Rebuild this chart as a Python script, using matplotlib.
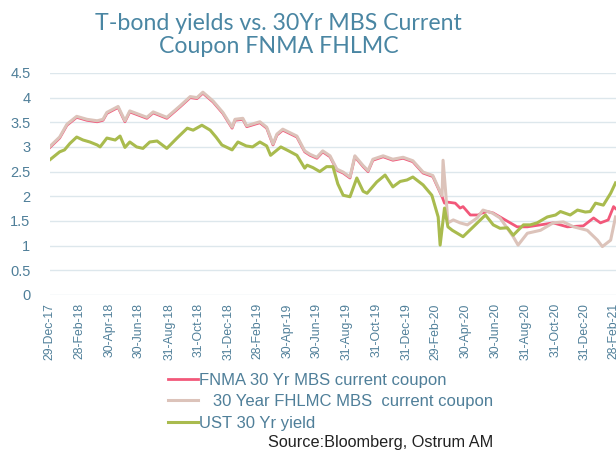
import matplotlib
matplotlib.use("Agg")
import matplotlib.pyplot as plt
import pandas as pd

# UST 30Y yield
ust_dates = ["2017-12-29", "2018-01-08", "2018-01-18", "2018-01-28", "2018-02-08", "2018-02-22",
             "2018-03-07", "2018-03-21", "2018-04-05", "2018-04-11", "2018-04-25", "2018-05-12",
             "2018-05-22", "2018-06-01", "2018-06-11", "2018-06-25", "2018-07-08", "2018-07-22",
             "2018-08-06", "2018-08-26", "2018-09-16", "2018-10-07", "2018-10-19", "2018-11-06",
             "2018-11-23", "2018-12-05", "2018-12-17", "2019-01-07", "2019-01-19", "2019-02-05",
             "2019-02-18", "2019-03-05", "2019-03-19", "2019-03-27", "2019-04-17", "2019-05-03",
             "2019-05-20", "2019-06-05", "2019-06-10", "2019-06-22", "2019-07-06", "2019-07-20",
             "2019-08-02", "2019-08-12", "2019-08-23", "2019-09-06", "2019-09-20", "2019-10-03",
             "2019-10-11", "2019-10-31", "2019-11-17", "2019-12-03", "2019-12-18", "2020-01-01",
             "2020-01-13", "2020-02-03", "2020-02-21", "2020-03-05", "2020-03-09", "2020-03-18",
             "2020-03-25", "2020-04-03", "2020-04-25", "2020-05-16", "2020-06-10", "2020-06-26",
             "2020-07-10", "2020-07-25", "2020-08-06", "2020-08-27", "2020-09-10", "2020-09-24",
             "2020-10-15", "2020-11-01", "2020-11-11", "2020-12-01", "2020-12-16", "2021-01-01",
             "2021-01-11", "2021-01-22", "2021-02-07", "2021-02-22", "2021-03-04"]
ust_yield = [2.74, 2.82, 2.90, 2.94, 3.07, 3.20,
             3.14, 3.10, 3.04, 3.00, 3.18, 3.14,
             3.22, 2.99, 3.10, 3.00, 2.97, 3.10,
             3.12, 2.97, 3.18, 3.38, 3.34, 3.44,
             3.34, 3.20, 3.04, 2.94, 3.10, 3.02,
             3.00, 3.10, 3.02, 2.83, 3.00, 2.92,
             2.83, 2.57, 2.63, 2.58, 2.50, 2.60,
             2.60, 2.25, 2.02, 1.99, 2.37, 2.10,
             2.06, 2.29, 2.43, 2.19, 2.30, 2.33,
             2.39, 2.23, 2.02, 1.58, 1.01, 1.76,
             1.38, 1.31, 1.18, 1.38, 1.62, 1.42,
             1.35, 1.36, 1.21, 1.42, 1.42, 1.46,
             1.58, 1.62, 1.69, 1.62, 1.72, 1.68,
             1.69, 1.86, 1.82, 2.06, 2.27]

# FNMA 30Y MBS current coupon
fnma_dates = ["2017-12-29", "2018-01-18", "2018-02-02", "2018-02-22", "2018-03-15", "2018-04-05",
              "2018-04-17", "2018-04-25", "2018-05-18", "2018-06-01", "2018-06-11", "2018-07-16",
              "2018-07-29", "2018-08-26", "2018-09-22", "2018-10-13", "2018-10-27", "2018-11-08",
              "2018-11-29", "2018-12-19", "2019-01-07", "2019-01-13", "2019-01-29", "2019-02-06",
              "2019-03-05", "2019-03-19", "2019-04-01", "2019-04-09", "2019-04-21", "2019-05-20",
              "2019-06-05", "2019-06-16", "2019-06-30", "2019-07-12", "2019-07-27", "2019-08-10",
              "2019-08-23", "2019-09-06", "2019-09-16", "2019-10-03", "2019-10-13", "2019-10-23",
              "2019-11-13", "2019-12-03", "2019-12-24", "2020-01-13", "2020-02-03", "2020-02-23",
              "2020-03-13", "2020-03-18", "2020-03-25", "2020-04-09", "2020-04-19", "2020-04-25",
              "2020-05-10", "2020-05-26", "2020-06-03", "2020-06-14", "2020-06-26", "2020-07-10",
              "2020-07-31", "2020-08-14", "2020-09-04", "2020-10-01", "2020-10-27", "2020-11-25",
              "2020-12-28", "2021-01-18", "2021-02-01", "2021-02-17", "2021-02-28", "2021-03-04"]
fnma_cc = [2.99, 3.18, 3.44, 3.60, 3.54, 3.51,
           3.54, 3.68, 3.80, 3.51, 3.71, 3.58,
           3.69, 3.58, 3.81, 4.00, 3.98, 4.09,
           3.91, 3.68, 3.38, 3.54, 3.56, 3.41,
           3.49, 3.38, 3.04, 3.24, 3.34, 3.20,
           2.90, 2.83, 2.77, 2.90, 2.80, 2.53,
           2.47, 2.37, 2.80, 2.60, 2.50, 2.73,
           2.80, 2.73, 2.77, 2.70, 2.47, 2.40,
           1.99, 1.86, 1.88, 1.86, 1.76, 1.79,
           1.62, 1.62, 1.66, 1.69, 1.66, 1.58,
           1.46, 1.38, 1.38, 1.42, 1.46, 1.38,
           1.40, 1.56, 1.46, 1.52, 1.79, 1.75]

# FHLMC 30Y MBS current coupon
fhlmc_dates = ["2017-12-29", "2018-01-18", "2018-02-02", "2018-02-22", "2018-03-15", "2018-04-05",
               "2018-04-17", "2018-04-25", "2018-05-18", "2018-06-01", "2018-06-11", "2018-07-16",
               "2018-07-29", "2018-08-26", "2018-09-22", "2018-10-13", "2018-10-27", "2018-11-08",
               "2018-11-29", "2018-12-19", "2019-01-07", "2019-01-13", "2019-01-29", "2019-02-06",
               "2019-03-05", "2019-03-19", "2019-04-01", "2019-04-09", "2019-04-21", "2019-05-20",
               "2019-06-05", "2019-06-16", "2019-06-30", "2019-07-12", "2019-07-27", "2019-08-10",
               "2019-08-23", "2019-09-06", "2019-09-16", "2019-10-03", "2019-10-13", "2019-10-23",
               "2019-11-13", "2019-12-03", "2019-12-24", "2020-01-13", "2020-02-03", "2020-02-23",
               "2020-03-13", "2020-03-15", "2020-03-20", "2020-03-25", "2020-04-05", "2020-04-19",
               "2020-05-04", "2020-05-24", "2020-06-05", "2020-06-24", "2020-07-10", "2020-08-06",
               "2020-08-16", "2020-09-04", "2020-10-01", "2020-10-27", "2020-11-17", "2020-12-08",
               "2021-01-05", "2021-01-26", "2021-02-05", "2021-02-22", "2021-03-04"]
fhlmc_cc = [3.01, 3.20, 3.46, 3.62, 3.56, 3.53,
            3.56, 3.70, 3.82, 3.53, 3.73, 3.60,
            3.71, 3.60, 3.83, 4.02, 4.00, 4.11,
            3.93, 3.70, 3.40, 3.56, 3.58, 3.43,
            3.51, 3.40, 3.06, 3.26, 3.36, 3.22,
            2.92, 2.85, 2.79, 2.92, 2.82, 2.55,
            2.49, 2.39, 2.82, 2.62, 2.52, 2.75,
            2.82, 2.75, 2.79, 2.72, 2.49, 2.42,
            2.01, 2.73, 2.13, 1.46, 1.52, 1.46,
            1.42, 1.56, 1.72, 1.66, 1.56, 1.18,
            1.01, 1.25, 1.31, 1.46, 1.48, 1.38,
            1.31, 1.11, 0.98, 1.11, 1.58]

tick_dates = ["2017-12-29", "2018-02-28", "2018-04-30", "2018-06-30", "2018-08-31", "2018-10-31",
              "2018-12-31", "2019-02-28", "2019-04-30", "2019-06-30", "2019-08-31", "2019-10-31",
              "2019-12-31", "2020-02-29", "2020-04-30", "2020-06-30", "2020-08-31", "2020-10-31",
              "2020-12-31", "2021-02-28"]

label_col = "#4f7f99"

fig = plt.figure(figsize=(6.16, 4.53), dpi=100)
ax = fig.add_axes([0.081, 0.349, 0.919, 0.490])

ax.plot(pd.to_datetime(fnma_dates), fnma_cc, color="#f2587a", lw=2.0,
        label="FNMA 30 Yr MBS current coupon")
ax.plot(pd.to_datetime(fhlmc_dates), fhlmc_cc, color="#dcc3ba", lw=2.2,
        label="   30 Year FHLMC MBS  current coupon")
ax.plot(pd.to_datetime(ust_dates), ust_yield, color="#a9bb4e", lw=2.2,
        label="UST 30 Yr yield")

ax.set_ylim(0, 4.5)
ax.set_yticks([0, 0.5, 1, 1.5, 2, 2.5, 3, 3.5, 4, 4.5])
ax.set_yticklabels(["0", "0.5", "1", "1.5", "2", "2.5", "3", "3.5", "4", "4.5"])
ax.set_xlim(pd.Timestamp("2017-12-29"), pd.Timestamp("2021-03-05"))
ticks = pd.to_datetime(tick_dates)
ax.set_xticks(ticks)
ax.set_xticklabels([t.strftime("%d-%b-%y") for t in ticks], rotation=90)

ax.grid(axis="y", color="#dde7ec", lw=1)
ax.set_axisbelow(True)
for s in ax.spines.values():
    s.set_visible(False)
ax.tick_params(axis="both", length=0, colors=label_col)
ax.tick_params(axis="y", labelsize=10.5, pad=14)
ax.tick_params(axis="x", labelsize=8.8, pad=6)
for lab in ax.get_xticklabels() + ax.get_yticklabels():
    lab.set_family("Liberation Sans")

fig.text(0.452, 0.972, "T-bond yields vs. 30Yr MBS Current\nCoupon FNMA FHLMC",
         ha="center", va="top", fontsize=16.7, color="#4a86a3", family="Lato",
         linespacing=1.15)

fig.legend(loc="upper left", bbox_to_anchor=(0.26, 0.196), bbox_transform=fig.transFigure,
           frameon=False, borderpad=0, handlelength=1.75, handletextpad=0.1,
           labelspacing=0.4, labelcolor=label_col, prop={"family": "Liberation Sans", "size": 12})

fig.text(0.435, 0.023, "Source:Bloomberg, Ostrum AM", fontsize=11.7, color="#222222",
         family="Liberation Sans", va="center")

fig.savefig("out.png", dpi=100)
